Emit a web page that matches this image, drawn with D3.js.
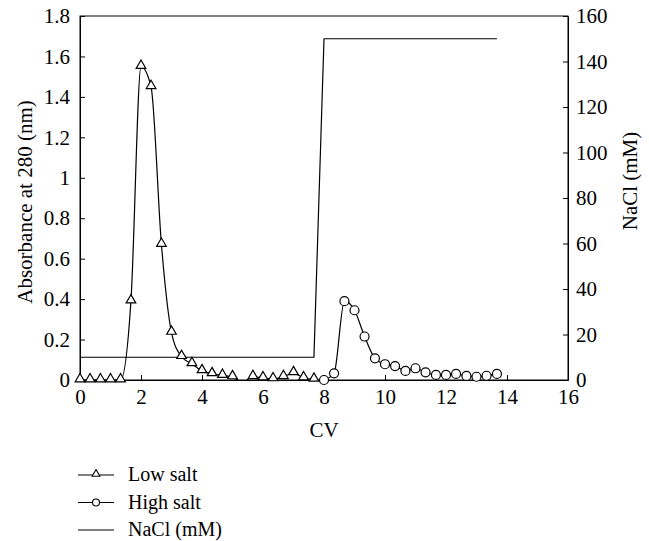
<!DOCTYPE html>
<html>
<head>
<meta charset="utf-8">
<script src="https://cdn.jsdelivr.net/npm/d3@7.9.0/dist/d3.min.js"></script>
<style>
  body { margin: 0; background: #fff; }
  svg text { font-family: "Liberation Serif", "DejaVu Serif", serif; fill: #000; }
</style>
</head>
<body>
<svg id="chart" width="649" height="541"></svg>
<script>
// Low salt run (triangles)
const lowX = [0, 0.33, 0.67, 1.0, 1.33, 1.67, 2.0, 2.33, 2.67, 3.0, 3.33, 3.67, 4.0, 4.33, 4.67, 5.0, 5.33, 5.67, 6.0, 6.33, 6.67, 7.0, 7.33, 7.67];
const lowY = [0, 0, 0, 0, 0, 0.39, 1.55, 1.45, 0.67, 0.235, 0.115, 0.08, 0.045, 0.03, 0.022, 0.015, -0.01, 0.016, 0.01, 0.005, 0.016, 0.035, 0.01, 0.003];

// High salt run (circles)
const highX = [8.0, 8.33, 8.67, 9.0, 9.33, 9.67, 10.0, 10.33, 10.67, 11.0, 11.33, 11.67, 12.0, 12.33, 12.67, 13.0, 13.33, 13.67];
const highY = [0, 0.033, 0.39, 0.345, 0.215, 0.107, 0.078, 0.069, 0.045, 0.058, 0.038, 0.025, 0.025, 0.03, 0.02, 0.016, 0.021, 0.03];

// NaCl step (right axis)
const naclX = [0, 7.67, 8.0, 13.67];
const naclY = [10, 10, 150, 150];

const xTicks = [0, 2, 4, 6, 8, 10, 12, 14, 16];
const yTicks = [0, 0.2, 0.4, 0.6, 0.8, 1, 1.2, 1.4, 1.6, 1.8];
const y2Ticks = [0, 20, 40, 60, 80, 100, 120, 140, 160];
const legendLabels = ['Low salt', 'High salt', 'NaCl (mM)'];

const svg = d3.select('#chart');
const m = { left: 80, right: 568, top: 16, bottom: 380 };

const x = d3.scaleLinear().domain([0, 16]).range([m.left, m.right]);
const y = d3.scaleLinear().domain([0, 1.8]).range([m.bottom, m.top]);
const y2 = d3.scaleLinear().domain([0, 160]).range([m.bottom, m.top]);

svg.append('defs').append('clipPath').attr('id', 'clip')
  .append('rect')
  .attr('x', m.left).attr('y', m.top)
  .attr('width', m.right - m.left).attr('height', m.bottom - m.top);

// frame
svg.append('rect')
  .attr('x', m.left).attr('y', m.top)
  .attr('width', m.right - m.left).attr('height', m.bottom - m.top)
  .attr('fill', 'none').attr('stroke', '#000').attr('stroke-width', 1);

const fs = 21;

// axes, ticks pointing inward
const gx = svg.append('g').attr('transform', `translate(0,${m.bottom})`)
  .call(d3.axisBottom(x).tickValues(xTicks).tickSizeInner(-5).tickSizeOuter(0).tickPadding(9));
const gy = svg.append('g').attr('transform', `translate(${m.left},0)`)
  .call(d3.axisLeft(y).tickValues(yTicks).tickFormat(d3.format('')).tickSizeInner(-5).tickSizeOuter(0).tickPadding(10));
const gy2 = svg.append('g').attr('transform', `translate(${m.right},0)`)
  .call(d3.axisRight(y2).tickValues(y2Ticks).tickSizeInner(-5).tickSizeOuter(0).tickPadding(8));

[gx, gy, gy2].forEach(g => {
  g.select('.domain').attr('stroke', '#000');
  g.selectAll('.tick line').attr('stroke', '#000');
  g.selectAll('text').attr('font-size', fs).attr('font-family', '"Liberation Serif", serif');
});

// axis titles
svg.append('text').attr('x', x(8)).attr('y', 437)
  .attr('text-anchor', 'middle').attr('font-size', fs).text('CV');
svg.append('text')
  .attr('transform', `translate(32,202) rotate(-90)`)
  .attr('text-anchor', 'middle').attr('font-size', fs).text('Absorbance at 280 (nm)');
svg.append('text')
  .attr('transform', `translate(637,181) rotate(-90)`)
  .attr('text-anchor', 'middle').attr('font-size', fs).text('NaCl (mM)');

const plot = svg.append('g').attr('clip-path', 'url(#clip)');

const lowData = lowX.map((d, i) => ({ x: d, y: lowY[i] }));
const highData = highX.map((d, i) => ({ x: d, y: highY[i] }));
const naclData = naclX.map((d, i) => ({ x: d, y: naclY[i] }));

// NaCl line
plot.append('path')
  .datum(naclData)
  .attr('d', d3.line().x(d => x(d.x)).y(d => y2(d.y)))
  .attr('fill', 'none').attr('stroke', '#000').attr('stroke-width', 1.2);

const smooth = d3.line().x(d => x(d.x)).y(d => y(d.y)).curve(d3.curveMonotoneX);

plot.append('path').datum(lowData).attr('d', smooth)
  .attr('fill', 'none').attr('stroke', '#000').attr('stroke-width', 1.2);
plot.append('path').datum(highData).attr('d', smooth)
  .attr('fill', 'none').attr('stroke', '#000').attr('stroke-width', 1.2);

const tri = d3.symbol().type(d3.symbolTriangle).size(40);

// markers are not clipped; the point below zero shows no marker
svg.selectAll('.tri').data(lowData.filter(d => d.y >= 0)).join('path')
  .attr('class', 'tri')
  .attr('transform', d => `translate(${x(d.x)},${y(d.y) - 1})`)
  .attr('d', tri)
  .attr('fill', '#fff').attr('stroke', '#000').attr('stroke-width', 1.2);

svg.selectAll('.circ').data(highData).join('circle')
  .attr('class', 'circ')
  .attr('cx', d => x(d.x)).attr('cy', d => y(d.y)).attr('r', 4.5)
  .attr('fill', '#fff').attr('stroke', '#000').attr('stroke-width', 1.2);

// legend
const leg = svg.append('g');
legendLabels.forEach((lab, i) => {
  const ly = 475 + i * 27.5;
  leg.append('line').attr('x1', 78).attr('x2', 114).attr('y1', ly).attr('y2', ly)
    .attr('stroke', '#000').attr('stroke-width', 1.2);
  if (i === 0) {
    leg.append('path').attr('transform', `translate(96,${ly - 1})`)
      .attr('d', d3.symbol().type(d3.symbolTriangle).size(26))
      .attr('fill', '#fff').attr('stroke', '#000').attr('stroke-width', 1.1);
  } else if (i === 1) {
    leg.append('circle').attr('cx', 96).attr('cy', ly).attr('r', 3.5)
      .attr('fill', '#fff').attr('stroke', '#000').attr('stroke-width', 1.1);
  }
  leg.append('text').attr('x', 128).attr('y', ly).attr('dy', '0.32em')
    .attr('font-size', 20).text(lab);
});
</script>
</body>
</html>
